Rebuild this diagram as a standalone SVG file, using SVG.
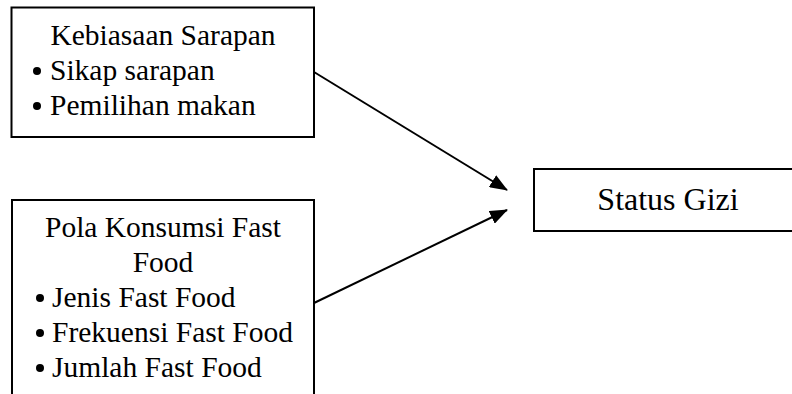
<svg xmlns="http://www.w3.org/2000/svg" width="792" height="394" viewBox="0 0 792 394">
<style>
.box{fill:#fff;stroke:#000;stroke-width:2}
.t{font-family:"Liberation Serif","Times New Roman",serif;font-size:29.5px;fill:#000}
.big{font-size:32px}
.c{text-anchor:middle}
.edge{stroke:#000;stroke-width:2;fill:none}
</style>
<defs>
<marker id="ah" markerWidth="18" markerHeight="14" refX="17" refY="7" orient="auto" markerUnits="userSpaceOnUse">
<path d="M0,0 L18,7 L0,14 Z" fill="#000"/>
</marker>
</defs>
<g id="connectors">
<line class="edge" x1="314" y1="72" x2="507" y2="190" marker-end="url(#ah)"/>
<line class="edge" x1="314" y1="303" x2="507" y2="210" marker-end="url(#ah)"/>
</g>
<g id="kebiasaan">
<rect class="box" x="11.5" y="7.5" width="302.5" height="129.5"/>
<text class="t c" x="163" y="45">Kebiasaan Sarapan</text>
<circle cx="37" cy="71" r="4"/>
<text class="t" x="50" y="80">Sikap sarapan</text>
<circle cx="37" cy="106" r="4"/>
<text class="t" x="50" y="115">Pemilihan makan</text>
</g>
<g id="polakonsumsi">
<rect class="box" x="12" y="200" width="302" height="210"/>
<text class="t c" x="163" y="237">Pola Konsumsi Fast</text>
<text class="t c" x="163" y="272">Food</text>
<circle cx="40" cy="298" r="4"/>
<text class="t" x="52" y="307">Jenis Fast Food</text>
<circle cx="40" cy="333" r="4"/>
<text class="t" x="52" y="342">Frekuensi Fast Food</text>
<circle cx="40" cy="368" r="4"/>
<text class="t" x="52" y="377">Jumlah Fast Food</text>
</g>
<g id="statusgizi">
<rect class="box" x="534" y="169" width="270" height="62"/>
<text class="t big c" x="668" y="210">Status Gizi</text>
</g>
</svg>
